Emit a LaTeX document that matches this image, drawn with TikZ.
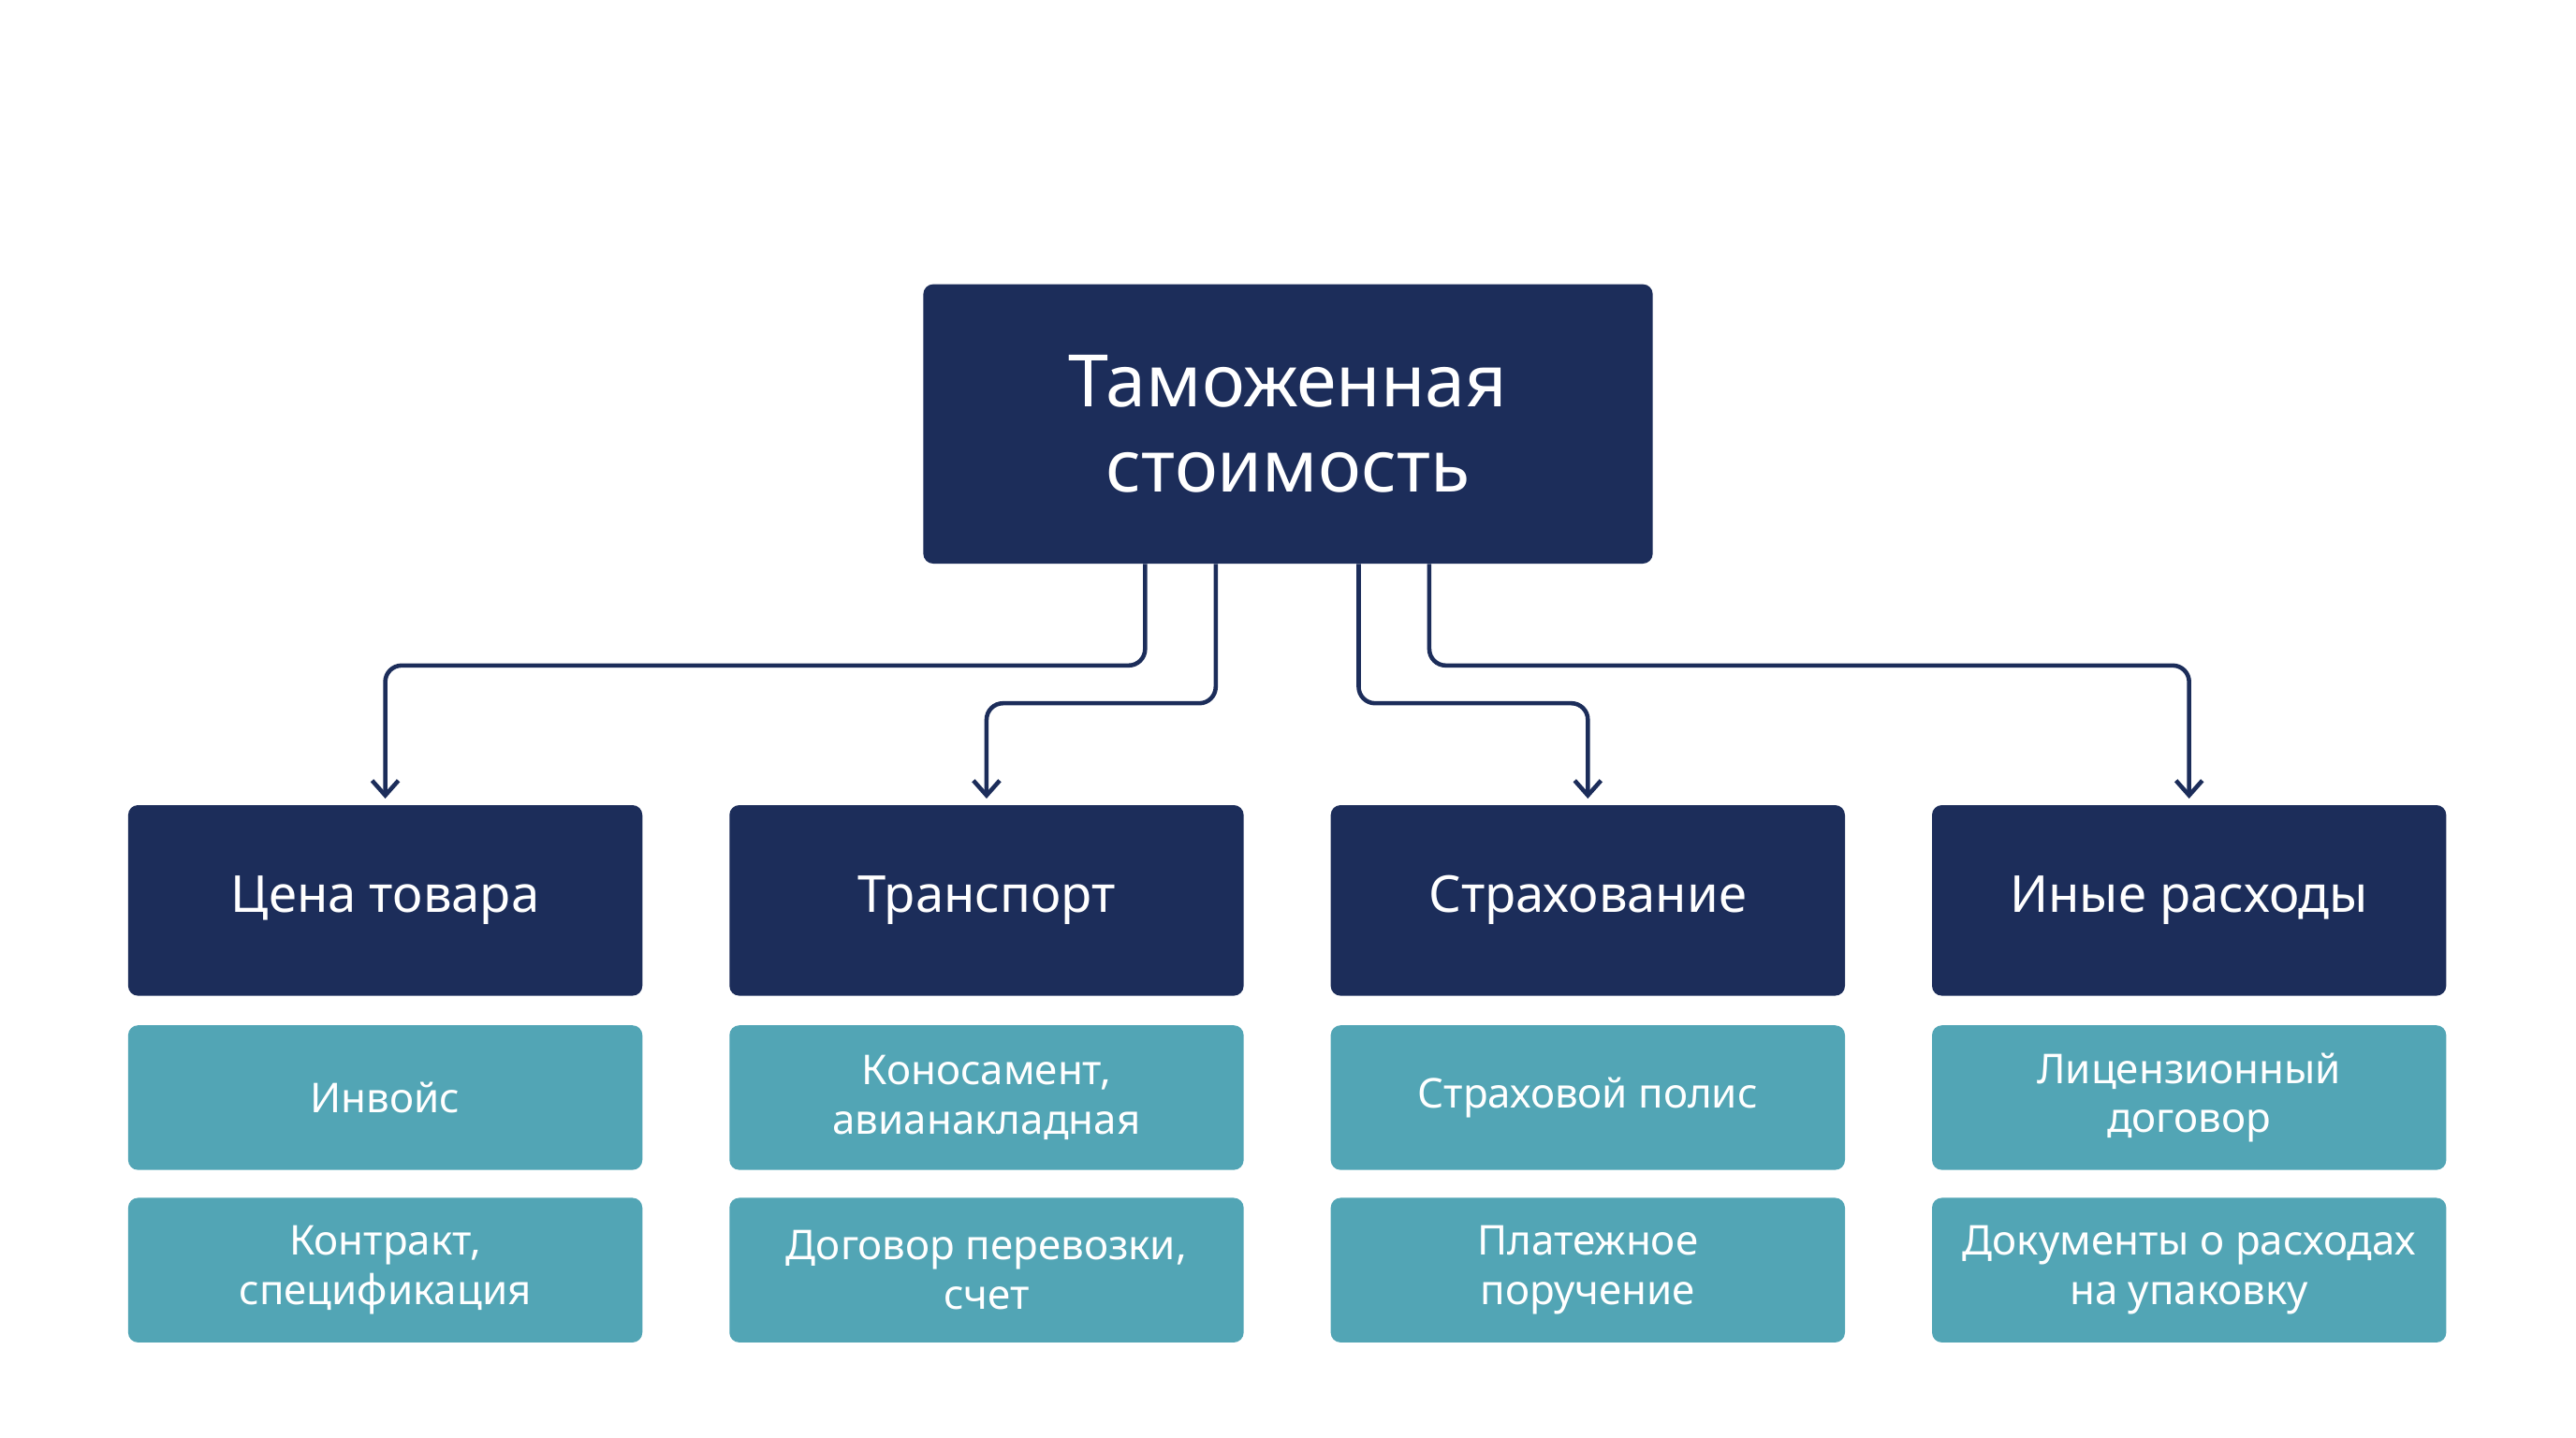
\documentclass[tikz,border=0pt]{standalone}
\usepackage{fontspec}
\setmainfont{Noto Sans}
\usetikzlibrary{arrows.meta}
\definecolor{navy}{HTML}{1C2D5A}
\definecolor{teal}{HTML}{52A5B5}
\begin{document}
\begin{tikzpicture}[x=1pt,y=-1pt,
  top/.style={fill=navy,rounded corners=6pt,text=white,align=center,font=\fontsize{44}{52}\selectfont\bfseries},
  cat/.style={fill=navy,rounded corners=6pt,text=white,align=center,minimum width=313pt,minimum height=116pt,font=\fontsize{31}{36}\selectfont,inner sep=0pt},
  doc/.style={fill=teal,rounded corners=6pt,text=white,align=center,minimum width=313pt,minimum height=88pt,font=\fontsize{25}{30}\selectfont,inner sep=0pt},
  conn/.style={draw=navy,line width=2.6pt,rounded corners=10pt,-{Straight Barb[length=9pt,width=16pt,line width=2.6pt]}}]
\useasboundingbox (0,0) rectangle (1568,875);
\node[top,minimum width=444pt,minimum height=170pt] (t) at (784,258) {Таможенная\\стоимость};
\foreach \n/\x/\a/\b/\c in {1/234.5/Цена товара/Инвойс/Контракт,\\спецификация}{}
\node[cat] (c1) at (234.5,548) {Цена товара};
\node[cat] (c2) at (600.5,548) {Транспорт};
\node[cat] (c3) at (966.5,548) {Страхование};
\node[cat] (c4) at (1332.5,548) {Иные расходы};
\node[doc] (d11) at (234.5,668) {Инвойс};
\node[doc] (d12) at (234.5,773) {Контракт,\\спецификация};
\node[doc] (d21) at (600.5,668) {Коносамент,\\авианакладная};
\node[doc] (d22) at (600.5,773) {Договор перевозки,\\счет};
\node[doc] (d31) at (966.5,668) {Страховой полис};
\node[doc] (d32) at (966.5,773) {Платежное\\поручение};
\node[doc] (d41) at (1332.5,668) {Лицензионный\\договор};
\node[doc] (d42) at (1332.5,773) {Документы о расходах\\на упаковку};
\coordinate (e1) at (234.5,486);
\coordinate (e2) at (600.5,486);
\coordinate (e3) at (966.5,486);
\coordinate (e4) at (1332.5,486);
\draw[conn] (t.south -| 697,0) -- (697,405) -- (234.5,405) -- (e1);
\draw[conn] (t.south -| 740,0) -- (740,428) -- (600.5,428) -- (e2);
\draw[conn] (t.south -| 827,0) -- (827,428) -- (966.5,428) -- (e3);
\draw[conn] (t.south -| 870,0) -- (870,405) -- (1332.5,405) -- (e4);
\end{tikzpicture}
\end{document}
